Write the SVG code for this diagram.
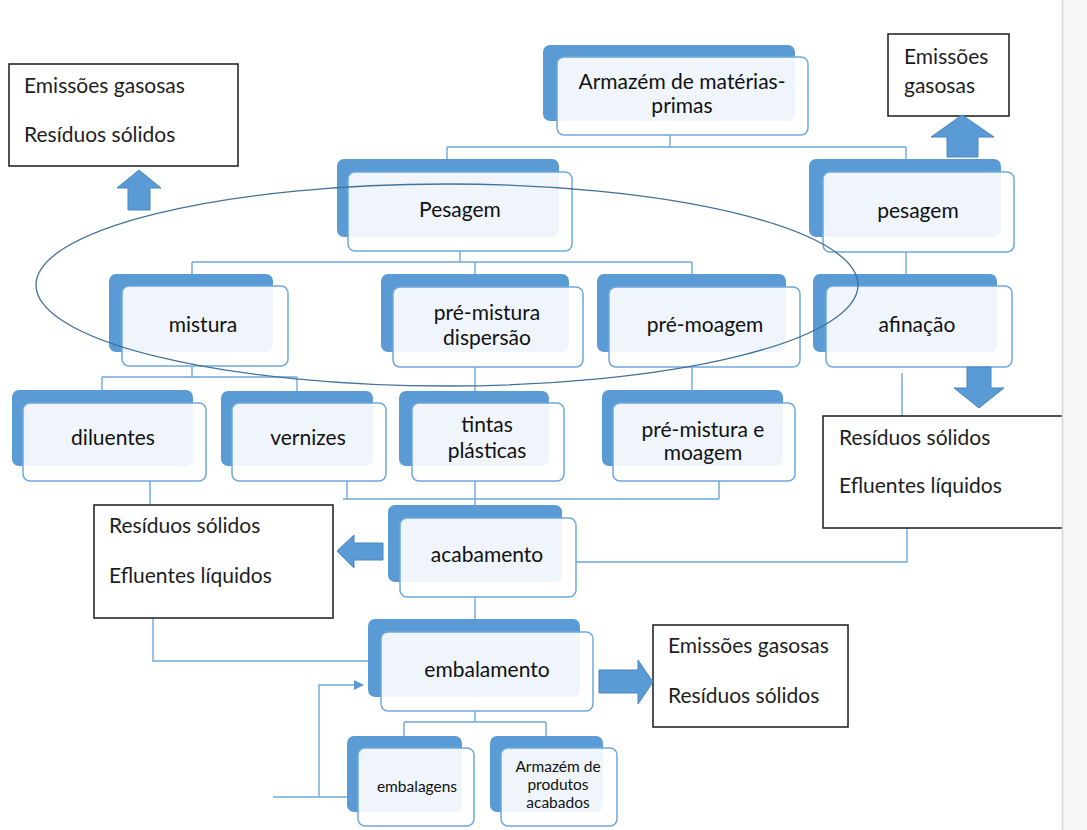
<svg xmlns="http://www.w3.org/2000/svg" width="1087" height="830" viewBox="0 0 1087 830">
<style>
.bk{fill:#5b9bd5}
.fr{fill:#ffffff;fill-opacity:0.9;stroke:#6fa8dc;stroke-width:1.5}
.t{font-family:Lato,"Open Sans",sans-serif;font-size:21px;fill:#111111;text-anchor:middle}
.ts{font-family:Lato,"Open Sans",sans-serif;font-size:15.5px;fill:#111111;text-anchor:middle}
.bt{font-family:Lato,"Open Sans",sans-serif;font-size:21px;fill:#1e1e1e}
.box{fill:#ffffff;stroke:#1a1a1a;stroke-width:1.5}
.ar{fill:#5b9bd5;stroke:#4a86c0;stroke-width:1}
.cn{fill:none;stroke:#6fa8dc;stroke-width:1.4}
</style>
<defs>
<marker id="ah" markerWidth="10" markerHeight="10" refX="9" refY="5" orient="auto" markerUnits="userSpaceOnUse">
<path d="M0,0 L10,5 L0,10 z" fill="#5b9bd5"/>
</marker>
</defs>
<rect x="0" y="0" width="1087" height="830" fill="#ffffff"/>

<g id="connectors" class="cn">
<path d="M670,135 V147 M447,147 H906 M447,147 V159 M906,147 V159"/>
<path d="M460,251 V262 M192,262 H692 M192,262 V274 M475,262 V274 M692,262 V274"/>
<path d="M192,366 V377 M102,377 H297 M102,377 V390 M297,377 V391"/>
<path d="M475,367 V391 M692,367 V390 M906,252 V274"/>
<path d="M902,373 V416 M907,528 V562 H576"/>
<path d="M150,481 V505"/>
<path d="M347,481 V499 M343,499 H719 M475,481 V505 M719,481 V499"/>
<path d="M153,618 V661 H385"/>
<path d="M475,597 V619"/>
<path d="M273,797 H347"/>
<path d="M319,797 V685 H363" marker-end="url(#ah)"/>
<path d="M475,711 V722 M404,722 H546 M404,722 V736 M546,722 V736"/>
</g>

<g id="n-armazem">
<rect class="bk" x="543" y="45" width="252" height="76" rx="7"/>
<rect class="fr" x="557" y="57" width="251" height="78" rx="7"/>
<text class="t" x="682" y="89">Armazém de matérias-</text>
<text class="t" x="682" y="113">primas</text>
</g>
<g id="n-pesagem1">
<rect class="bk" x="337" y="159" width="222" height="78" rx="7"/>
<rect class="fr" x="348" y="172" width="224" height="79" rx="7"/>
<text class="t" x="460" y="217">Pesagem</text>
</g>
<g id="n-pesagem2">
<rect class="bk" x="809" y="159" width="192" height="78" rx="7"/>
<rect class="fr" x="823" y="172" width="191" height="80" rx="7"/>
<text class="t" x="918" y="218">pesagem</text>
</g>
<g id="n-mistura">
<rect class="bk" x="109" y="274" width="164" height="78" rx="7"/>
<rect class="fr" x="122" y="286" width="166" height="80" rx="7"/>
<text class="t" x="203" y="332">mistura</text>
</g>
<g id="n-premistura">
<rect class="bk" x="381" y="274" width="188" height="78" rx="7"/>
<rect class="fr" x="393" y="287" width="190" height="80" rx="7"/>
<text class="t" x="487" y="320">pré-mistura</text>
<text class="t" x="487" y="345">dispersão</text>
</g>
<g id="n-premoagem">
<rect class="bk" x="597" y="274" width="189" height="78" rx="7"/>
<rect class="fr" x="609" y="287" width="191" height="80" rx="7"/>
<text class="t" x="705" y="332">pré-moagem</text>
</g>
<g id="n-afinacao">
<rect class="bk" x="813" y="274" width="184" height="78" rx="7"/>
<rect class="fr" x="826" y="286" width="186" height="81" rx="7"/>
<text class="t" x="917" y="332">afinação</text>
</g>
<g id="n-diluentes">
<rect class="bk" x="12" y="390" width="181" height="76" rx="7"/>
<rect class="fr" x="23" y="403" width="183" height="78" rx="7"/>
<text class="t" x="113" y="445">diluentes</text>
</g>
<g id="n-vernizes">
<rect class="bk" x="221" y="391" width="152" height="75" rx="7"/>
<rect class="fr" x="232" y="403" width="154" height="78" rx="7"/>
<text class="t" x="308" y="445">vernizes</text>
</g>
<g id="n-tintas">
<rect class="bk" x="399" y="391" width="150" height="75" rx="7"/>
<rect class="fr" x="412" y="403" width="152" height="78" rx="7"/>
<text class="t" x="487" y="432">tintas</text>
<text class="t" x="487" y="458">plásticas</text>
</g>
<g id="n-premist-moagem">
<rect class="bk" x="602" y="390" width="181" height="76" rx="7"/>
<rect class="fr" x="613" y="403" width="182" height="78" rx="7"/>
<text class="t" x="703" y="437">pré-mistura e</text>
<text class="t" x="703" y="460">moagem</text>
</g>
<g id="n-acabamento">
<rect class="bk" x="388" y="505" width="174" height="77" rx="7"/>
<rect class="fr" x="400" y="518" width="176" height="79" rx="7"/>
<text class="t" x="487" y="562">acabamento</text>
</g>
<g id="n-embalamento">
<rect class="bk" x="368" y="619" width="212" height="78" rx="7"/>
<rect class="fr" x="381" y="632" width="212" height="79" rx="7"/>
<text class="t" x="487" y="677">embalamento</text>
</g>
<g id="n-embalagens">
<rect class="bk" x="347" y="736" width="115" height="76" rx="7"/>
<rect class="fr" x="358" y="748" width="116" height="78" rx="7"/>
<text class="ts" x="417" y="792">embalagens</text>
</g>
<g id="n-armazem-prod">
<rect class="bk" x="490" y="736" width="113" height="76" rx="7"/>
<rect class="fr" x="501" y="748" width="116" height="78" rx="7"/>
<text class="ts" x="558" y="772">Armazém de</text>
<text class="ts" x="558" y="790">produtos</text>
<text class="ts" x="558" y="808">acabados</text>
</g>

<g id="out-left-top">
<rect class="box" x="9" y="64" width="229" height="102"/>
<text class="bt" x="24" y="93">Emissões gasosas</text>
<text class="bt" x="24" y="142">Resíduos sólidos</text>
</g>
<g id="out-right-top">
<rect class="box" x="888" y="34" width="121" height="82"/>
<text class="bt" x="904" y="64">Emissões</text>
<text class="bt" x="904" y="93">gasosas</text>
</g>
<g id="out-right-mid">
<rect class="box" x="823" y="416" width="260" height="112"/>
<text class="bt" x="839" y="445">Resíduos sólidos</text>
<text class="bt" x="839" y="493">Efluentes líquidos</text>
</g>
<g id="out-left-mid">
<rect class="box" x="94" y="505" width="239" height="113"/>
<text class="bt" x="109" y="533">Resíduos sólidos</text>
<text class="bt" x="109" y="583">Efluentes líquidos</text>
</g>
<g id="out-bottom-right">
<rect class="box" x="653" y="625" width="195" height="102"/>
<text class="bt" x="668" y="653">Emissões gasosas</text>
<text class="bt" x="668" y="703">Resíduos sólidos</text>
</g>

<g id="block-arrows">
<polygon class="ar" points="139,170 161,188 150,188 150,210 128,210 128,188 117,188"/>
<polygon class="ar" points="962,115 994,137 978,137 978,157 947,157 947,137 931,137"/>
<polygon class="ar" points="967,367 991,367 991,388 1004,388 979,408 954,388 967,388"/>
<polygon class="ar" points="337,551 354,535 354,543 383,543 383,560 354,560 354,568"/>
<polygon class="ar" points="599,670 638,670 638,660 653,682 638,704 638,693 599,693"/>
</g>

<ellipse id="group-ellipse" cx="447" cy="285" rx="411" ry="101" fill="none" stroke="#41719c" stroke-width="1.3"/>

<g id="page-edge">
<rect x="1063" y="0" width="24" height="830" fill="#f6f6f6"/>
<line x1="1062.5" y1="0" x2="1062.5" y2="830" stroke="#d6d6d6" stroke-width="1.5"/>
</g>
</svg>
